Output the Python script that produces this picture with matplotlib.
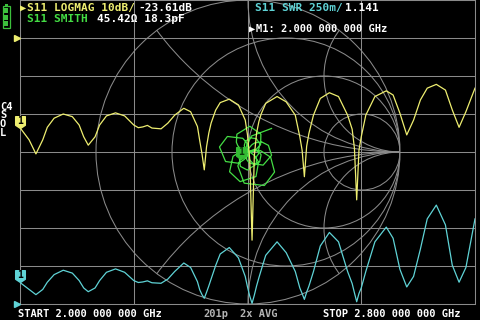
import numpy as np
import matplotlib.pyplot as plt
from matplotlib.patches import Circle, Rectangle
from matplotlib.path import Path
from matplotlib.transforms import offset_copy

plt.rcParams['font.family'] = ['DejaVu Sans Mono', 'DejaVu Sans']
plt.rcParams['font.weight'] = 'bold'

# sweep 2.0 - 2.8 GHz, 201 points; S11 read at these point numbers
f_start, f_stop, n_points = 2.0, 2.8, 201
sweep_idx = [0, 4, 7, 10, 12, 15, 19, 23, 26, 28,
             30, 33, 35, 38, 42, 46, 50, 52, 54, 56,
             58, 62, 65, 68, 72, 75, 78, 79, 80, 81,
             82, 83, 84, 86, 88, 92, 96, 99, 100, 101,
             102, 103, 104, 105, 106, 108, 113, 117, 121, 123,
             124, 125, 126, 127, 129, 132, 136, 140, 144, 146,
             147, 148, 149, 150, 152, 156, 161, 164, 167, 170,
             173, 176, 179, 183, 187, 190, 193, 196, 200]
s11_db = [-23.6, -26.8, -30.5, -26.8, -23.5, -21.1, -20.0, -20.7, -22.9, -26.0,
          -28.2, -26.0, -22.9, -20.5, -19.7, -20.5, -22.9, -23.6, -23.4, -23.0,
          -23.7, -23.9, -22.4, -20.3, -18.5, -19.4, -23.3, -27.0, -30.5, -34.7,
          -28.6, -25.0, -22.4, -19.0, -17.0, -16.1, -17.6, -21.6, -25.5, -32.0,
          -53.2, -31.0, -25.0, -22.0, -20.0, -17.2, -15.4, -16.8, -20.3, -26.0,
          -29.5, -36.5, -28.5, -25.1, -20.3, -15.9, -14.4, -15.4, -20.3, -24.0,
          -29.0, -42.6, -29.5, -26.0, -20.3, -15.4, -13.9, -15.0, -19.8, -25.5,
          -21.6, -16.3, -13.2, -12.2, -13.7, -18.9, -23.5, -19.4, -13.2]
# phase of S11 in degrees
s11_phase = [226, 212, 202, 23, 8, 348, 320, 297, 276, 260,
             253, 119, 104, 82, 58, 34, 12, 8, 0, 350,
             340, 325, 318, 304, 268, 242, 213, 200, 193, 187,
             68, 61, 53, 36, 18, 352, 319, 294, 282, 271,
             263, 166, 157, 148, 140, 122, 86, 54, 31, 13,
             7, 1, 249, 243, 230, 203, 170, 143, 111, 99,
             91, 82, 335, 331, 316, 288, 255, 227, 196, 180,
             6, 347, 323, 296, 263, 234, 222, 78, 45]
freq_ticks = [2.0, 2.2, 2.4, 2.6, 2.8]

freq = f_start + np.array(sweep_idx) * (f_stop - f_start) / (n_points - 1)
mag = 10 ** (np.array(s11_db) / 20)
gamma = mag * np.exp(1j * np.deg2rad(s11_phase))
swr = (1 + mag) / (1 - mag)

W, H = 480, 320
grid_c = '#8a8a8a'
yel, grn, cyn = '#eeee70', '#44dd44', '#5fd3d6'

fig = plt.figure(figsize=(4.8, 3.2), dpi=100, facecolor='black')
rect = [20 / W, 16 / H, 455 / W, 304 / H]

# rectangular grid, 4 x 8 divisions
ax_grid = fig.add_axes(rect, zorder=0)
ax_grid.set_facecolor('black')
ax_grid.set_xlim(f_start, f_stop)
ax_grid.set_ylim(-70, 10)
ax_grid.set_xticks(freq_ticks)
ax_grid.set_yticks(range(-70, 11, 10))
ax_grid.grid(True, color=grid_c, lw=0.75)
ax_grid.tick_params(length=0, labelbottom=False, labelleft=False)
for sp in ax_grid.spines.values():
    sp.set_color(grid_c)
    sp.set_linewidth(0.75)

# smith chart, radius = 152 px, centred on the grid
pad = 1.1
side = 304 * pad
ax_s = fig.add_axes([(248 - side / 2) / W, (168 - side / 2) / H, side / W, side / H], zorder=1)
ax_s.set_xlim(-pad, pad)
ax_s.set_ylim(-pad, pad)
ax_s.axis('off')
ax_s.patch.set_visible(False)
outer = Circle((0, 0), 1, fill=False, ec=grid_c, lw=0.75)
ax_s.add_patch(outer)
for cx, cy, r in [(0.25, 0, 0.75), (0.5, 0, 0.5), (0.75, 0, 0.25),
                  (1, 2, 2), (1, -2, 2), (1, 1, 1), (1, -1, 1),
                  (1, 0.5, 0.5), (1, -0.5, 0.5)]:
    c = Circle((cx, cy), r, fill=False, ec=grid_c, lw=0.75)
    ax_s.add_patch(c)
    c.set_clip_path(outer)
ax_s.plot(gamma.real, gamma.imag, color=grn, lw=0.9)

ax_db = fig.add_axes(rect, zorder=2)
ax_db.set_xlim(f_start, f_stop)
ax_db.set_ylim(-70, 10)
ax_db.axis('off')
ax_db.plot(freq, s11_db, color=yel, lw=0.9)

ax_swr = fig.add_axes(rect, zorder=3)
ax_swr.set_xlim(f_start, f_stop)
ax_swr.set_ylim(1.0, 3.0)
ax_swr.axis('off')
ax_swr.plot(freq, swr, color=cyn, lw=0.9)

# marker 1 tags
tag_path = Path([(0, 0), (-0.45, 0.3), (-0.45, 1.1), (0.45, 1.1), (0.45, 0.3), (0, 0)], closed=True)


def tag(ax, x, y, color, tcolor='black'):
    ax.plot([x], [y], marker=tag_path, ms=17, mfc=color, mec=color, ls='none', clip_on=False)
    tr = offset_copy(ax.transData, fig=fig, x=0, y=7, units='dots')
    ax.text(x, y, '1', transform=tr, ha='center', va='center', fontsize=7,
            color=tcolor, fontweight='bold', clip_on=False)


tag(ax_db, freq[0], s11_db[0], yel)
tag(ax_swr, freq[0], swr[0], cyn)
tag(ax_s, gamma.real[0], gamma.imag[0], '#33bb33', '#0a3a0a')

# reference level pointers
ax_db.plot([f_start], [0], marker='>', ms=5, color=yel, clip_on=False,
           transform=offset_copy(ax_db.transData, fig=fig, x=-3, y=0, units='dots'))
ax_swr.plot([f_start], [1.0], marker='>', ms=5, color=cyn, clip_on=False,
            transform=offset_copy(ax_swr.transData, fig=fig, x=-3, y=0, units='dots'))


def put(x, y, s, color, size=7.6):
    fig.text(x / W, 1 - y / H, s, color=color, fontsize=size, fontweight='bold',
             va='baseline', ha='left')


put(19.5, 11, '▶', yel, 7.5)
put(27, 11, 'S11 LOGMAG 10dB/', yel, 8)
put(138, 11, '-23.61dB', 'white', 8)
put(27, 21.5, 'S11 SMITH', grn, 8)
put(97, 21.5, '45.42Ω 18.3pF', 'white', 8)
put(255, 11, 'S11 SWR 250m/', cyn, 8)
put(345, 11, '1.141', 'white', 8)
put(248.5, 32, '▶', 'white', 7.5)
put(256, 32, 'M1: 2.000 000 000 GHz', 'white', 7.5)
put(18, 317, 'START 2.000 000 000 GHz', 'white', 7.5)
put(203, 317, '201p', '#b4b4b4', 7.5)
put(240, 317, '2x AVG', '#b4b4b4', 7.5)
put(323, 317, 'STOP 2.800 000 000 GHz', 'white', 7.5)
for s, yb in [('C4', 110), ('S', 118.5), ('O', 127), ('L', 135.5)]:
    put(0, yb, s, 'white', 7.5)

# battery icon
bat = '#3cc03c'
fig.add_artist(Rectangle((2.5 / W, 1 - 28 / H), 7 / W, 22 / H, fill=False, ec=bat, lw=0.9,
                         transform=fig.transFigure))
fig.add_artist(Rectangle((4.5 / W, 1 - 6 / H), 3 / W, 2.5 / H, fc=bat, ec='none',
                         transform=fig.transFigure))
for yb in [26, 19.5, 13]:
    fig.add_artist(Rectangle((4 / W, 1 - yb / H), 4 / W, 5 / H, fc=bat, ec='none',
                             transform=fig.transFigure))

fig.savefig('out.png', dpi=100, facecolor='black')
